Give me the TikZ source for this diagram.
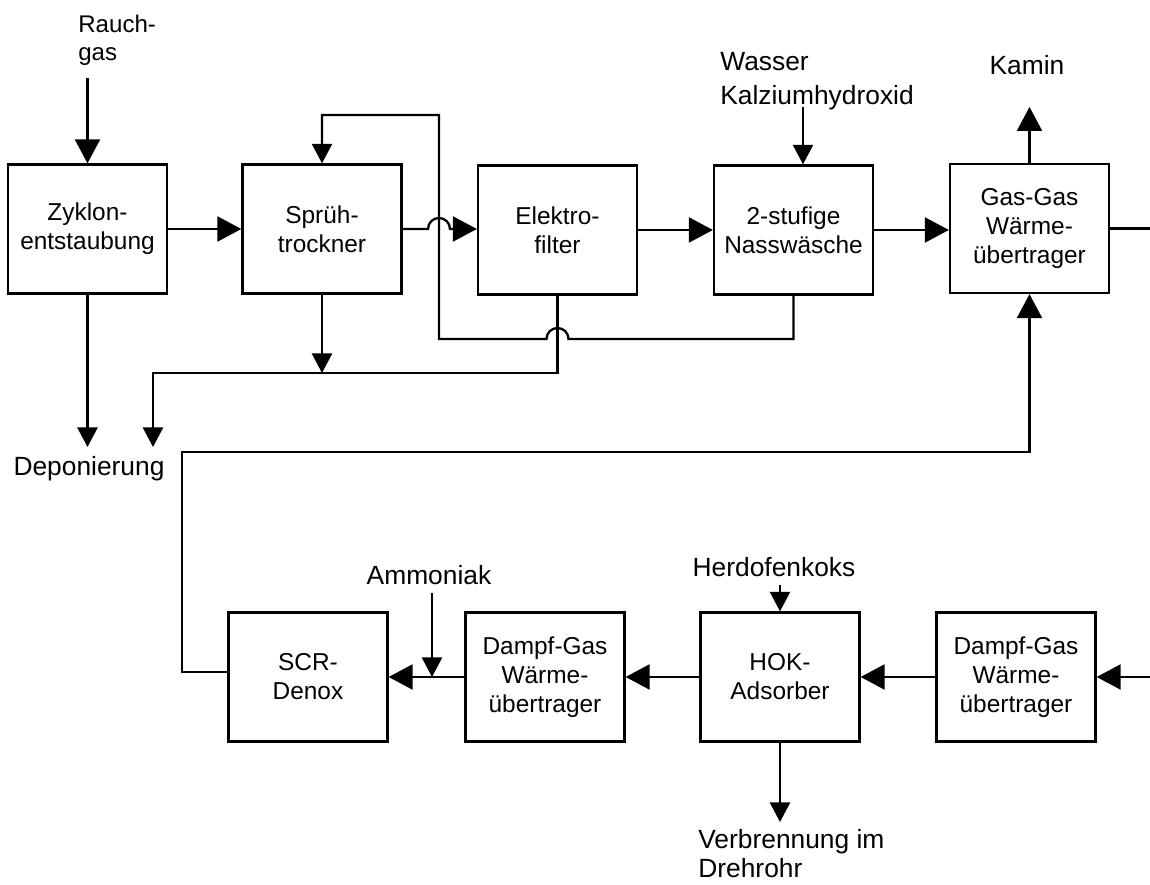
\documentclass[tikz,border=0pt]{standalone}
\usepackage{fontspec}
\setmainfont{Liberation Sans}
\usetikzlibrary{arrows.meta,calc}

\tikzset{
  unit/.style={draw, line width=1.3pt, minimum width=3.18cm, minimum height=2.58cm, align=center, inner sep=0pt, font=\fontsize{13.9}{16.5}\selectfont},
  lbl/.style={inner sep=0pt, font=\fontsize{15}{18}\selectfont},
  pipe/.style={line width=1.3pt},
  flow/.style={pipe, -{Triangle[length=0.48cm, width=0.5cm]}},
  feed/.style={pipe, -{Triangle[length=0.39cm, width=0.4cm]}},
}

\begin{document}
\begin{tikzpicture}
	\useasboundingbox (0, 0) rectangle (23, 17.7);
	%%%%% START %%%%%
	\node[unit] (zyk) at (1.75, 13.12) {Zyklon-\\entstaubung};
	\node[unit] (spr) at (6.44, 13.12) {Sprüh-\\trockner};
	\node[unit] (elf) at (11.15, 13.1) {Elektro-\\filter};
	\node[unit] (nass) at (15.87, 13.1) {2-stufige\\Nasswäsche};
	\node[unit] (gg) at (20.59, 13.13) {Gas-Gas\\Wärme-\\übertrager};
	
	\node[unit] (scr) at (6.16, 4.16) {SCR-\\Denox};
	\node[unit] (dg1) at (10.9, 4.16) {Dampf-Gas\\Wärme-\\übertrager};
	\node[unit] (hok) at (15.6, 4.16) {HOK-\\Adsorber};
	\node[unit] (dg2) at (20.32, 4.16) {Dampf-Gas\\Wärme-\\übertrager};
	
	\node[lbl, anchor=north west, align=left, font=\fontsize{13.7}{15.9}\selectfont] (rauch) at (1.56, 17.4) {Rauch-\\gas};
	\node[lbl, anchor=north west, align=left, font=\fontsize{15}{19.3}\selectfont] (wasser) at (14.4, 16.66) {Wasser\\Kalziumhydroxid};
	\node[lbl, anchor=base] (kamin) at (20.54, 16.2) {Kamin};
	\node[lbl, anchor=base] (depo) at (1.78, 8.18) {Deponierung};
	\node[lbl, anchor=base] (amm) at (8.58, 6.0) {Ammoniak};
	\node[lbl, anchor=base] (herd) at (15.48, 6.16) {Herdofenkoks};
	\node[lbl, anchor=north west, align=left, font=\fontsize{15}{16.6}\selectfont] (verbr) at (13.96, 1.12) {Verbrennung im\\Drehrohr};
	
	\coordinate (rgin) at (1.75, 16.14);
	\coordinate (kin) at (16.06, 15.56);
	\coordinate (kout) at (20.59, 15.56);
	\coordinate (ggout) at (23, 13.13);
	\coordinate (ain) at (8.64, 5.84);
	\coordinate (hin) at (15.6, 6.0);
	\coordinate (hout) at (15.6, 1.26);
	\coordinate (gin) at (23, 4.16);
	\coordinate (lp) at (8.78, 10.92);
	\coordinate (lt) at (8.78, 15.4);
	\coordinate (dpa) at (3.06, 10.24);
	\coordinate (dpb) at (3.06, 8.76);
	\coordinate (rl) at (3.64, 8.66);
	
	% top line
	\draw[flow] (rgin) -- (zyk.north);
	\draw[flow] (zyk.east) -- (spr.west);
	\draw[flow] (spr.east) -- ($(spr.east -| lt)+(-0.22, 0)$) arc (180:0:0.22) -- (spr.east -| elf.west);
	\draw[flow] (elf.east) -- (nass.west);
	\draw[flow] (nass.east) -- (nass.east -| gg.west);
	\draw[flow] (gg.north) -- (kout);
	\draw[pipe] (gg.east) -- (gg.east -| ggout);
	\draw[feed] (kin) -- (nass.north -| kin);
	\draw[feed] (nass.south) |- ($(elf.south |- lp)+(0.22, 0)$) arc (0:180:0.22) -- (lp) -- (lt) -| (spr.north);
	
	% to Deponierung
	\draw[feed] (zyk.south) -- (zyk.south |- dpb);
	\draw[feed] (spr.south) -- (spr.south |- dpa);
	\draw[feed] (elf.south) |- (dpa) -- (dpb);
	
	% bottom line
	\draw[flow] (gin) -- (dg2.east);
	\draw[flow] (dg2.west) -- (hok.east);
	\draw[flow] (hok.west) -- (dg1.east);
	\draw[flow] (dg1.west) -- (scr.east);
	\draw[feed] (ain) -- (ain |- scr.east);
	\draw[feed] (hin) -- (hok.north);
	\draw[feed] (hok.south) -- (hout);
	\draw[flow] ($(scr.west)+(0, 0.1)$) -| (rl) -| (gg.south);
	%%%%% END %%%%%
\end{tikzpicture}
\end{document}
